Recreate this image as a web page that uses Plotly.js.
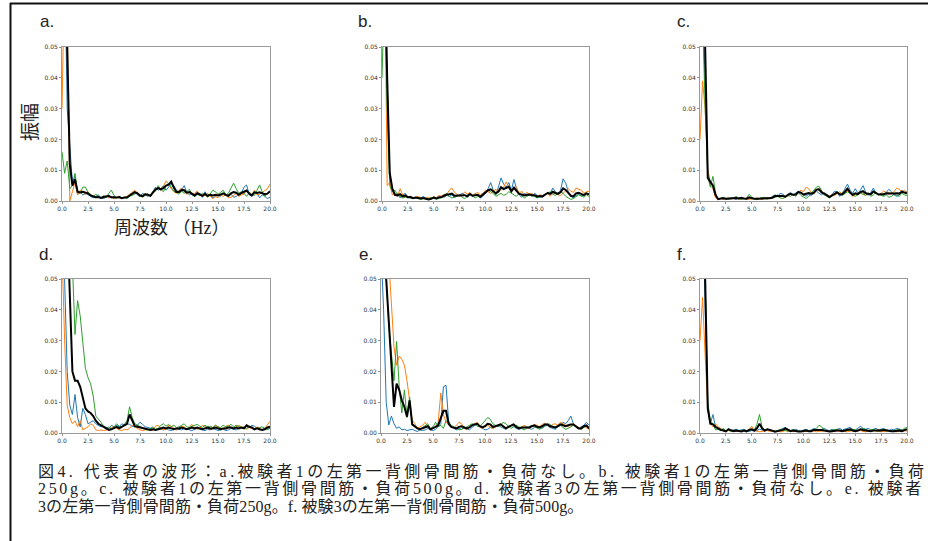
<!DOCTYPE html>
<html><head><meta charset="utf-8">
<script src="https://cdn.plot.ly/plotly-3.0.1.min.js"></script>
<style>html,body{margin:0;padding:0;background:#fff}#chart{width:928px;height:541px}</style>
</head><body><div id="chart"></div>
<script>
const freq = [0,
0.25,0.5,0.75,1, 1.25,1.5,1.75,2, 2.25,2.5,2.75,3, 3.25,3.5,3.75,4, 4.25,4.5,4.75,5,
5.25,5.5,5.75,6, 6.25,6.5,6.75,7, 7.25,7.5,7.75,8, 8.25,8.5,8.75,9, 9.25,9.5,9.75,10,
10.25,10.5,10.75,11, 11.25,11.5,11.75,12, 12.25,12.5,12.75,13, 13.25,13.5,13.75,14, 14.25,14.5,14.75,15,
15.25,15.5,15.75,16, 16.25,16.5,16.75,17, 17.25,17.5,17.75,18, 18.25,18.5,18.75,19, 19.25,19.5,19.75,20];

// ---- panel a ----
const A_blue = [0.060,
0.080,0.030,0.016,0.006, 0.008,0.002,0.003,0.002, 0.0025,0.002,0.0015,0.001, 0.0015,0.002,0.001,0.0008, 0.0012,0.002,0.001,0.0015,
0.001,0.0015,0.0008,0.001, 0.0012,0.0018,0.0025,0.003, 0.002,0.0015,0.0025,0.002, 0.0015,0.002,0.003,0.0045, 0.0035,0.004,0.005,0.0035,
0.0045,0.0055,0.005,0.0035, 0.003,0.0035,0.005,0.0028, 0.002,0.0025,0.0015,0.002, 0.0025,0.0012,0.003,0.0015, 0.002,0.001,0.0015,0.002,
0.0015,0.0025,0.002,0.0015, 0.0022,0.0012,0.0015,0.002, 0.0025,0.0045,0.0052,0.002, 0.0015,0.003,0.0025,0.001, 0.002,0.0015,0.0008,0.0012];
const A_orange = [0.030,
0.075,0.060,0.000,0.003, 0.006,0.002,0.0035,0.003, 0.002,0.003,0.002,0.0015, 0.001,0.0015,0.001,0.0012, 0.0018,0.001,0.0012,0.0008,
0.0012,0.001,0.0008,0.0012, 0.0015,0.0022,0.0028,0.0035, 0.0025,0.002,0.0012,0.0025, 0.002,0.0015,0.0025,0.0038, 0.0042,0.0035,0.0048,0.0065,
0.0055,0.004,0.003,0.0025, 0.0035,0.0042,0.003,0.0022, 0.0028,0.002,0.0025,0.0032, 0.0022,0.0015,0.0018,0.0025, 0.0015,0.0008,0.0015,0.001,
0.002,0.0015,0.002,0.001, 0.0012,0.0018,0.0025,0.0015, 0.002,0.0022,0.0035,0.0025, 0.0018,0.0035,0.002,0.0022, 0.0028,0.0035,0.004,0.0055];
const A_green = [0.016,
0.009,0.013,0.004,0.005, 0.009,0.003,0.0025,0.0045, 0.0045,0.0028,0.002,0.0015, 0.0022,0.0015,0.001,0.0018, 0.0012,0.0025,0.0035,0.0018,
0.001,0.0015,0.001,0.0012, 0.0008,0.0015,0.0018,0.0022, 0.0028,0.0018,0.0012,0.002, 0.0025,0.0015,0.0028,0.0032, 0.005,0.0038,0.003,0.0048,
0.0058,0.0045,0.0032,0.0028, 0.0022,0.0032,0.0025,0.003, 0.0038,0.002,0.0015,0.0022, 0.0018,0.0025,0.002,0.0012, 0.0025,0.0035,0.003,0.0022,
0.0028,0.0035,0.002,0.0025, 0.0042,0.0058,0.004,0.0025, 0.003,0.0025,0.0015,0.0028, 0.0022,0.0018,0.0035,0.0052, 0.003,0.0015,0.0025,0.0028];
const A_mean = [0.080,
0.080,0.050,0.012,0.005, 0.007,0.003,0.0028,0.003, 0.0028,0.0025,0.0018,0.0015, 0.0012,0.0013,0.001,0.0013, 0.0014,0.0016,0.0012,0.0011,
0.0011,0.0013,0.0009,0.0011, 0.0012,0.0018,0.0024,0.0029, 0.0025,0.0018,0.0016,0.0022, 0.002,0.0017,0.0028,0.0038, 0.0042,0.0038,0.0042,0.005,
0.0053,0.0063,0.0044,0.0029, 0.0029,0.0036,0.0035,0.0027, 0.0029,0.0022,0.0018,0.0025, 0.0022,0.0017,0.0023,0.0017, 0.002,0.0018,0.002,0.0018,
0.0021,0.0025,0.002,0.0017, 0.0025,0.0029,0.0027,0.002, 0.0026,0.0031,0.0034,0.0024, 0.0018,0.0028,0.0026,0.0028, 0.0025,0.0022,0.0024,0.0032];

// ---- panel b ----
const B_blue = [0.080,
0.070,0.040,0.008,0.004, 0.002,0.0025,0.001,0.002, 0.0025,0.0012,0.0015,0.001, 0.0012,0.0008,0.001,0.0015, 0.0008,0.0005,0.001,0.0012,
0.0008,0.001,0.0015,0.0012, 0.0018,0.0015,0.002,0.0012, 0.0015,0.002,0.0025,0.0018, 0.0012,0.002,0.0015,0.0025, 0.0018,0.001,0.0015,0.0025,
0.004,0.006,0.0035,0.002, 0.0045,0.0075,0.0055,0.0045, 0.006,0.0035,0.007,0.004, 0.002,0.0012,0.0025,0.0018, 0.0022,0.0015,0.0025,0.0018,
0.0012,0.0015,0.002,0.0028, 0.0025,0.0042,0.003,0.0025, 0.0035,0.0072,0.0058,0.003, 0.0015,0.001,0.0018,0.0022, 0.0015,0.002,0.0025,0.002];
const B_orange = [0.060,
0.080,0.005,0.006,0.002, 0.0025,0.0015,0.004,0.002, 0.0015,0.001,0.0015,0.0008, 0.0012,0.0015,0.001,0.0008, 0.001,0.0012,0.0008,0.0015,
0.001,0.0018,0.0015,0.0022, 0.002,0.0035,0.0042,0.0028, 0.0022,0.0015,0.002,0.003, 0.0022,0.0028,0.0018,0.0022, 0.0028,0.002,0.0025,0.0035,
0.003,0.0025,0.0032,0.0038, 0.0028,0.0035,0.0045,0.0062, 0.0048,0.0032,0.0038,0.0045, 0.0025,0.0032,0.002,0.0028, 0.0022,0.0025,0.0018,0.0015,
0.002,0.0018,0.0022,0.0025, 0.0015,0.0025,0.003,0.002, 0.0018,0.0025,0.0035,0.004, 0.0032,0.0028,0.0042,0.0038, 0.0035,0.0025,0.003,0.0032];
const B_green = [0.040,
0.070,0.030,0.005,0.003, 0.0035,0.002,0.0015,0.001, 0.0012,0.0015,0.001,0.0008, 0.001,0.0008,0.0005,0.0008, 0.0006,0.0008,0.001,0.0008,
0.0006,0.0008,0.001,0.0018, 0.0025,0.0015,0.001,0.0012, 0.0015,0.002,0.0012,0.0008, 0.0015,0.0022,0.0018,0.001, 0.0015,0.0012,0.002,0.0025,
0.0035,0.003,0.0025,0.0015, 0.002,0.0025,0.0018,0.0022, 0.003,0.0025,0.002,0.0015, 0.0025,0.0018,0.001,0.0015, 0.002,0.0018,0.0015,0.001,
0.0015,0.0012,0.002,0.0025, 0.003,0.0022,0.0018,0.0025, 0.003,0.0025,0.0015,0.001, 0.0005,0.0008,0.0015,0.002, 0.0018,0.0012,0.002,0.0015];
const B_mean = [0.080,
0.080,0.040,0.009,0.004, 0.002,0.0018,0.0022,0.0015, 0.0018,0.0012,0.0013,0.0009, 0.0011,0.001,0.0008,0.001, 0.0008,0.0005,0.0007,0.0011,
0.0008,0.0012,0.0013,0.0017, 0.0021,0.0022,0.0024,0.0017, 0.0017,0.0018,0.0019,0.0019, 0.0016,0.0023,0.0017,0.0019, 0.002,0.0014,0.002,0.0028,
0.0035,0.0038,0.003,0.0025, 0.0031,0.0045,0.0039,0.0043, 0.0046,0.0031,0.0043,0.0033, 0.0023,0.0021,0.0018,0.002, 0.0021,0.0019,0.0019,0.0014,
0.0016,0.0015,0.0021,0.0026, 0.0023,0.003,0.0026,0.0023, 0.0028,0.0041,0.0036,0.0027, 0.0017,0.0015,0.0025,0.0027, 0.0023,0.0019,0.0025,0.0022];

// ---- panel c ----
const C_blue = [0.080,
0.060,0.040,0.010,0.006, 0.005,0.002,0.0005,0.0008, 0.001,0.0005,0.0008,0.001, 0.0008,0.0005,0.001,0.0012, 0.0008,0.0005,0.0008,0.0006,
0.0008,0.0005,0.0008,0.001, 0.0012,0.0008,0.001,0.0015, 0.002,0.0015,0.0025,0.0022, 0.0015,0.0022,0.0028,0.002, 0.0025,0.0032,0.0028,0.002,
0.0015,0.0022,0.0018,0.0025, 0.0032,0.0025,0.002,0.0028, 0.0022,0.0015,0.002,0.0032, 0.003,0.0015,0.0025,0.004, 0.0055,0.0035,0.0025,0.004,
0.0025,0.0035,0.005,0.003, 0.0018,0.0028,0.0042,0.0025, 0.002,0.0022,0.0018,0.0028, 0.0038,0.003,0.002,0.0015, 0.002,0.0035,0.0028,0.003];
const C_orange = [0.020,
0.039,0.030,0.010,0.005, 0.004,0.001,0.0005,0.0008, 0.0005,0.0008,0.001,0.0006, 0.0008,0.001,0.0005,0.0012, 0.0008,0.0006,0.0005,0.0008,
0.0006,0.001,0.0008,0.0005, 0.0008,0.0012,0.0008,0.001, 0.0015,0.002,0.0012,0.0018, 0.0015,0.002,0.0025,0.0018, 0.0022,0.0028,0.0035,0.003,
0.0045,0.004,0.0028,0.0022, 0.0035,0.004,0.0032,0.0025, 0.002,0.0015,0.002,0.0018, 0.0025,0.003,0.0022,0.0025, 0.0035,0.0025,0.0015,0.002,
0.0022,0.0028,0.0025,0.0018, 0.0025,0.0022,0.003,0.0028, 0.002,0.0025,0.0032,0.0028, 0.0022,0.0025,0.003,0.0042, 0.0038,0.003,0.0035,0.0028];
const C_green = [0.080,
0.060,0.030,0.008,0.0045, 0.008,0.0025,0.0005,0.0008, 0.0012,0.0008,0.0005,0.0008, 0.001,0.0015,0.0008,0.0005, 0.0008,0.001,0.0022,0.0012,
0.0008,0.0005,0.0008,0.0012, 0.0008,0.0006,0.001,0.0008, 0.0012,0.0015,0.001,0.0008, 0.0012,0.0018,0.0015,0.0022, 0.0015,0.0028,0.0018,0.0012,
0.0008,0.0015,0.0025,0.0035, 0.0045,0.0048,0.0032,0.002, 0.0015,0.001,0.0015,0.0025, 0.003,0.0022,0.0018,0.0025, 0.003,0.0025,0.002,0.0015,
0.002,0.0025,0.0022,0.0018, 0.0025,0.0015,0.002,0.0028, 0.0022,0.0018,0.0015,0.002, 0.0012,0.0015,0.0022,0.0018, 0.0015,0.0025,0.002,0.0018];
const C_mean = [0.070,
0.080,0.050,0.0075,0.0062, 0.005,0.002,0.0006,0.0008, 0.0009,0.0007,0.0008,0.0008, 0.0009,0.001,0.0008,0.001, 0.0008,0.0007,0.0012,0.0009,
0.0007,0.0007,0.0008,0.0009, 0.0009,0.0009,0.0009,0.0011, 0.0016,0.0017,0.0016,0.0016, 0.0014,0.002,0.0023,0.002, 0.0021,0.0029,0.0027,0.0021,
0.0023,0.0026,0.0024,0.0027, 0.0037,0.0038,0.0028,0.0024, 0.0019,0.0013,0.0018,0.0025, 0.0028,0.0022,0.0022,0.003, 0.004,0.0028,0.002,0.0025,
0.0022,0.0029,0.0032,0.0025, 0.0023,0.0022,0.0031,0.0027, 0.0021,0.0022,0.0022,0.0025, 0.0024,0.0023,0.0024,0.0025, 0.0024,0.003,0.0028,0.0025];

// ---- panel d ----
const D_blue = [0.080,
0.050,0.020,0.009,0.006, 0.0125,0.005,0.002,0.008, 0.006,0.003,0.0035,0.004, 0.003,0.0025,0.002,0.0022, 0.0018,0.0015,0.0025,0.002,
0.0025,0.002,0.003,0.0025, 0.003,0.0028,0.0022,0.002, 0.0025,0.0035,0.0028,0.002, 0.0018,0.0015,0.0012,0.001, 0.0015,0.0012,0.001,0.0015,
0.001,0.0008,0.0012,0.0015, 0.0012,0.001,0.0015,0.0012, 0.001,0.0008,0.0012,0.0015, 0.0012,0.001,0.0008,0.0012, 0.001,0.0015,0.0012,0.0008,
0.001,0.0012,0.0008,0.001, 0.0015,0.0012,0.001,0.0015, 0.0018,0.0015,0.0022,0.0018, 0.0025,0.0022,0.0015,0.001, 0.0012,0.0015,0.0012,0.0015];
const D_orange = [0.060,
0.030,0.009,0.005,0.003, 0.004,0.002,0.004,0.001, 0.0015,0.002,0.003,0.0025, 0.001,0.0008,0.001,0.0008, 0.001,0.0012,0.0018,0.002,
0.0015,0.001,0.0008,0.0012, 0.001,0.0015,0.0025,0.002, 0.0015,0.001,0.0008,0.001, 0.0012,0.0008,0.001,0.0022, 0.0025,0.0015,0.001,0.0012,
0.0025,0.0022,0.0015,0.001, 0.0015,0.0022,0.002,0.0012, 0.002,0.0028,0.0018,0.0012, 0.0015,0.0025,0.0022,0.0015, 0.0012,0.0018,0.0025,0.002,
0.0015,0.001,0.0022,0.0025, 0.0018,0.0012,0.002,0.0025, 0.002,0.0015,0.0012,0.0018, 0.0015,0.0012,0.002,0.0015, 0.001,0.0015,0.0025,0.0038];
const D_green = [0.080,
0.080,0.080,0.070,0.055, 0.032,0.043,0.038,0.030, 0.021,0.018,0.016,0.012, 0.0055,0.0045,0.0035,0.002, 0.0015,0.002,0.0012,0.002,
0.003,0.0022,0.002,0.0028, 0.004,0.0085,0.005,0.003, 0.0025,0.002,0.0015,0.0012, 0.001,0.0015,0.002,0.0012, 0.0015,0.0025,0.003,0.0022,
0.0028,0.002,0.0025,0.0018, 0.002,0.0025,0.003,0.002, 0.0018,0.0022,0.0025,0.0028, 0.0022,0.0018,0.0025,0.002, 0.0022,0.0018,0.0025,0.002,
0.0018,0.0025,0.002,0.0022, 0.0028,0.002,0.0025,0.0022, 0.0018,0.002,0.0015,0.0022, 0.0018,0.0012,0.0015,0.0018, 0.002,0.0015,0.0012,0.0015];
const D_mean = [0.080,
0.080,0.070,0.045,0.020, 0.017,0.017,0.015,0.011, 0.008,0.007,0.0065,0.0055, 0.004,0.003,0.0025,0.002, 0.0015,0.001,0.0012,0.0015,
0.002,0.0015,0.002,0.0025, 0.003,0.006,0.004,0.0022, 0.002,0.0018,0.0015,0.0012, 0.001,0.001,0.0012,0.001, 0.0012,0.0015,0.0018,0.0015,
0.0018,0.0015,0.0012,0.0015, 0.0015,0.0018,0.0015,0.0012, 0.0015,0.0018,0.0015,0.0018, 0.0015,0.0012,0.0015,0.0018, 0.0015,0.0015,0.0018,0.0015,
0.0012,0.0015,0.0015,0.0018, 0.0018,0.0015,0.0018,0.0015, 0.0018,0.0015,0.0025,0.002, 0.0018,0.0012,0.0015,0.0012, 0.001,0.0012,0.0018,0.002];

// ---- panel e ----
const E_blue = [0.060,
0.040,0.010,0.0026,0.0055, 0.003,0.0015,0.002,0.001, 0.0012,0.0008,0.001,0.0012, 0.0008,0.0005,0.001,0.0008, 0.001,0.0015,0.001,0.0008,
0.0012,0.002,0.003,0.015, 0.0155,0.004,0.002,0.0015, 0.001,0.0015,0.0012,0.002, 0.0015,0.001,0.0018,0.0025, 0.003,0.0022,0.0015,0.001,
0.0012,0.0018,0.0015,0.002, 0.0025,0.002,0.0015,0.0012, 0.0018,0.0025,0.0022,0.0015, 0.0012,0.0015,0.0018,0.002, 0.0015,0.0012,0.0018,0.0022,
0.0018,0.0015,0.0022,0.0025, 0.0018,0.0015,0.0012,0.002, 0.0025,0.0035,0.003,0.004, 0.0055,0.003,0.002,0.0015, 0.002,0.0025,0.0035,0.0025];
const E_orange = [0.080,
0.080,0.070,0.055,0.040, 0.028,0.022,0.025,0.024, 0.022,0.017,0.010,0.0042, 0.003,0.0015,0.002,0.0025, 0.0035,0.002,0.001,0.0015,
0.002,0.0035,0.013,0.006, 0.0035,0.003,0.002,0.0015, 0.0025,0.0035,0.003,0.0015, 0.001,0.002,0.0025,0.003, 0.0035,0.002,0.0015,0.002,
0.0025,0.002,0.0015,0.002, 0.0025,0.003,0.0018,0.0015, 0.002,0.0025,0.003,0.002, 0.0015,0.0018,0.0025,0.002, 0.0015,0.002,0.0028,0.0025,
0.002,0.0028,0.0032,0.0025, 0.002,0.0028,0.003,0.0025, 0.0035,0.003,0.0025,0.002, 0.0025,0.003,0.0022,0.0018, 0.0015,0.0022,0.0018,0.0012];
const E_green = [0.080,
0.070,0.050,0.035,0.026, 0.017,0.0297,0.015,0.0065, 0.014,0.005,0.0117,0.003, 0.002,0.0015,0.001,0.0018, 0.0025,0.003,0.0015,0.002,
0.0035,0.002,0.0025,0.0015, 0.004,0.0035,0.0025,0.002, 0.0015,0.001,0.0012,0.0015, 0.002,0.0025,0.003,0.0028, 0.0022,0.002,0.003,0.0042,
0.005,0.0045,0.003,0.0025, 0.002,0.0025,0.0035,0.003, 0.0022,0.0015,0.002,0.0025, 0.002,0.0015,0.001,0.0015, 0.002,0.0025,0.002,0.0015,
0.0012,0.0018,0.0025,0.003, 0.0028,0.002,0.0015,0.002, 0.0025,0.0018,0.0012,0.0015, 0.002,0.0025,0.002,0.0015, 0.0012,0.0018,0.0022,0.0015];
const E_mean = [0.080,
0.070,0.050,0.035,0.0215, 0.0085,0.016,0.014,0.0106, 0.0085,0.0053,0.0106,0.0028, 0.002,0.0015,0.0012,0.0015, 0.002,0.0022,0.0012,0.0015,
0.002,0.0025,0.005,0.0072, 0.0072,0.003,0.002,0.0018, 0.0015,0.002,0.0022,0.0018, 0.0015,0.0018,0.0025,0.0028, 0.003,0.0022,0.0018,0.0022,
0.003,0.0028,0.002,0.0022, 0.0025,0.0028,0.0022,0.0015, 0.002,0.0025,0.0028,0.002, 0.0015,0.0018,0.0018,0.0018, 0.0018,0.0022,0.0025,0.002,
0.0018,0.0022,0.0028,0.0028, 0.0022,0.002,0.0018,0.0022, 0.0028,0.0025,0.0022,0.0025, 0.0028,0.0028,0.002,0.0015, 0.0015,0.0022,0.0025,0.0015];

// ---- panel f ----
const F_blue = [0.060,
0.080,0.040,0.008,0.003, 0.006,0.002,0.0015,0.0008, 0.0012,0.0005,0.0015,0.0008, 0.001,0.0012,0.0008,0.001, 0.0012,0.0008,0.0005,0.0008,
0.0006,0.0008,0.0012,0.001, 0.0008,0.0012,0.001,0.0008, 0.0005,0.0008,0.001,0.0015, 0.0018,0.0012,0.0008,0.001, 0.0012,0.0008,0.0006,0.001,
0.0012,0.0008,0.001,0.0015, 0.001,0.0008,0.0012,0.0015, 0.001,0.0008,0.0012,0.001, 0.0012,0.0015,0.001,0.0012, 0.0015,0.0018,0.0012,0.001,
0.0015,0.0022,0.0015,0.0012, 0.0015,0.001,0.0012,0.0015, 0.001,0.0012,0.0015,0.001, 0.0008,0.0012,0.001,0.0015, 0.0012,0.001,0.0008,0.0012];
const F_orange = [0.030,
0.044,0.025,0.008,0.003, 0.002,0.003,0.002,0.0015, 0.001,0.0005,0.0008,0.0005, 0.0008,0.0005,0.0006,0.0005, 0.0008,0.0005,0.0012,0.0022,
0.0008,0.0005,0.0004,0.0005, 0.0006,0.0008,0.0005,0.0004, 0.0005,0.0006,0.0004,0.0005, 0.0008,0.0006,0.0005,0.0004, 0.0005,0.0006,0.0005,0.0004,
0.0006,0.0005,0.0008,0.0005, 0.0004,0.0006,0.0005,0.0008, 0.0006,0.0005,0.0004,0.0006, 0.0008,0.0005,0.0006,0.0005, 0.0004,0.0006,0.0008,0.0005,
0.0006,0.0008,0.0005,0.0004, 0.0006,0.0005,0.0008,0.0006, 0.0005,0.0004,0.0006,0.0005, 0.0008,0.0006,0.0005,0.0004, 0.0006,0.0005,0.0008,0.0006];
const F_green = [0.070,
0.080,0.050,0.010,0.004, 0.003,0.001,0.0012,0.0008, 0.0015,0.0008,0.001,0.0005, 0.0008,0.001,0.0006,0.0008, 0.001,0.0005,0.0008,0.0012,
0.001,0.0028,0.006,0.002, 0.0008,0.0012,0.001,0.0008, 0.0006,0.0008,0.0012,0.001, 0.0008,0.0006,0.0008,0.001, 0.0008,0.0006,0.0005,0.0008,
0.001,0.0008,0.0006,0.0012, 0.0015,0.0025,0.002,0.001, 0.0008,0.0006,0.0008,0.0012, 0.001,0.0008,0.0006,0.0008, 0.001,0.0008,0.0012,0.001,
0.0008,0.001,0.0015,0.0012, 0.0008,0.001,0.0012,0.0008, 0.0006,0.001,0.0012,0.001, 0.0008,0.0006,0.0008,0.001, 0.0012,0.0008,0.0015,0.0018];
const F_mean = [0.080,
0.080,0.050,0.008,0.003, 0.0028,0.002,0.0015,0.001, 0.0008,0.0005,0.0012,0.0008, 0.0006,0.0008,0.0006,0.0005, 0.0008,0.0005,0.001,0.0012,
0.0008,0.0015,0.003,0.0015, 0.0008,0.0012,0.001,0.0006, 0.0004,0.0006,0.0008,0.001, 0.0015,0.001,0.0006,0.0008, 0.0006,0.0005,0.0005,0.0006,
0.0008,0.0006,0.0006,0.001, 0.001,0.0012,0.001,0.0008, 0.0006,0.0005,0.0006,0.0008, 0.0008,0.0008,0.0006,0.0008, 0.001,0.0012,0.0008,0.0006,
0.0008,0.0012,0.001,0.0008, 0.0008,0.0006,0.0008,0.0008, 0.0006,0.0008,0.001,0.0008, 0.0006,0.0006,0.0006,0.0008, 0.0008,0.0006,0.001,0.0012];

const panelLabels = ['a.', 'b.', 'c.', 'd.', 'e.', 'f.'];
const xTickVals = [0, 2.5, 5, 7.5, 10, 12.5, 15, 17.5, 20];
const xTickText = ['0.0', '2.5', '5.0', '7.5', '10.0', '12.5', '15.0', '17.5', '20.0'];
const yTickVals = [0, 0.01, 0.02, 0.03, 0.04, 0.05];
const yTickText = ['0.00', '0.01', '0.02', '0.03', '0.04', '0.05'];
const yLabelText = '振幅';
const xLabelText = '周波数 （Hz）';
const captionLines = [
  '図4. 代表者の波形：a.被験者1の左第一背側骨間筋・負荷なし。b. 被験者1の左第一背側骨間筋・負荷',
  '250g。c. 被験者1の左第一背側骨間筋・負荷500g。d. 被験者3の左第一背側骨間筋・負荷なし。e. 被験者',
  '3の左第一背側骨間筋・負荷250g。f. 被験3の左第一背側骨間筋・負荷500g。'
];

const panels = [
  [A_blue, A_orange, A_green, A_mean],
  [B_blue, B_orange, B_green, B_mean],
  [C_blue, C_orange, C_green, C_mean],
  [D_blue, D_orange, D_green, D_mean],
  [E_blue, E_orange, E_green, E_mean],
  [F_blue, F_orange, F_green, F_mean]
];

// ----- layout geometry (pixels) -----
const W = 928, H = 541;
const boxes = [
  {x: [62, 270], y: [47, 201], lab: [38, 22]},
  {x: [382, 589], y: [47, 201], lab: [356, 22]},
  {x: [700, 907], y: [47, 201], lab: [675, 22]},
  {x: [62, 270], y: [279, 433], lab: [37, 255]},
  {x: [381, 589], y: [279, 433], lab: [357, 255]},
  {x: [700, 907], y: [279, 433], lab: [675, 255]}
];
const colors = ['#1f77b4', '#ff7f0e', '#2ca02c', '#000000'];
const widths = [1, 1, 1, 2];
const captionY = [471, 489, 507];
const captionSpacing = [3.42, 2.66, 0.1];   // justify the first two lines like the reference
const serifCJK = 'Liberation Serif, Noto Sans CJK JP, serif';

const px = v => v / W;
const py = v => 1 - v / H;

const traces = [];
const layout = {
  width: W, height: H,
  margin: {l: 0, r: 0, t: 0, b: 0},
  paper_bgcolor: '#ffffff', plot_bgcolor: '#ffffff',
  showlegend: false,
  annotations: [], shapes: []
};

panels.forEach((series, i) => {
  const n = i === 0 ? '' : String(i + 1);
  series.forEach((vals, k) => {
    traces.push({
      type: 'scatter', mode: 'lines',
      x: freq, y: vals,
      xaxis: 'x' + n, yaxis: 'y' + n,
      line: {color: colors[k], width: widths[k]},
      hoverinfo: 'skip'
    });
  });
  const b = boxes[i];
  const common = {
    showline: true, mirror: true, linecolor: '#9a9a9a', linewidth: 1,
    ticks: 'outside', ticklen: 2, tickwidth: 0.8, tickcolor: '#777',
    showgrid: false, zeroline: false,
    tickfont: {family: 'DejaVu Sans', size: 6, color: '#333'},
    fixedrange: true
  };
  layout['xaxis' + n] = Object.assign({}, common, {
    domain: [px(b.x[0]), px(b.x[1])],
    range: [0, 20], tickmode: 'array', tickvals: xTickVals, ticktext: xTickText,
    anchor: 'y' + n
  });
  layout['yaxis' + n] = Object.assign({}, common, {
    domain: [py(b.y[1]), py(b.y[0])],
    range: [0, 0.05], tickmode: 'array', tickvals: yTickVals, ticktext: yTickText,
    anchor: 'x' + n
  });
  layout.annotations.push({
    xref: 'paper', yref: 'paper', x: px(b.lab[0]), y: py(b.lab[1]),
    xanchor: 'left', yanchor: 'middle', showarrow: false,
    text: panelLabels[i],
    font: {family: 'Liberation Sans, Arial, sans-serif', size: 17, color: '#222'}
  });
});

// axis labels of panel a
layout.annotations.push({
  xref: 'paper', yref: 'paper', x: px(31), y: py(122),
  xanchor: 'center', yanchor: 'middle', showarrow: false, textangle: -90,
  text: yLabelText,
  font: {family: serifCJK, size: 19, color: '#222'}
});
layout.annotations.push({
  xref: 'paper', yref: 'paper', x: px(172), y: py(228),
  xanchor: 'center', yanchor: 'middle', showarrow: false,
  text: xLabelText,
  font: {family: serifCJK, size: 18, color: '#222'}
});

// caption lines
captionLines.forEach((t, j) => {
  layout.annotations.push({
    xref: 'paper', yref: 'paper', x: px(37), y: py(captionY[j]),
    xanchor: 'left', yanchor: 'middle', align: 'left', showarrow: false,
    borderpad: 0,
    text: '<span style="letter-spacing:' + captionSpacing[j] + 'px">' + t + '</span>',
    font: {family: serifCJK, size: 16, color: '#222'}
  });
});

// outer frame (left and top edges visible)
layout.shapes.push({type: 'line', xref: 'paper', yref: 'paper',
  x0: px(10.5), x1: px(10.5), y0: 0, y1: py(3), line: {color: '#111', width: 2}});
layout.shapes.push({type: 'line', xref: 'paper', yref: 'paper',
  x0: px(10), x1: 1, y0: py(3.5), y1: py(3.5), line: {color: '#111', width: 2}});

Plotly.newPlot('chart', traces, layout, {staticPlot: true, displayModeBar: false});
</script>
</body></html>
